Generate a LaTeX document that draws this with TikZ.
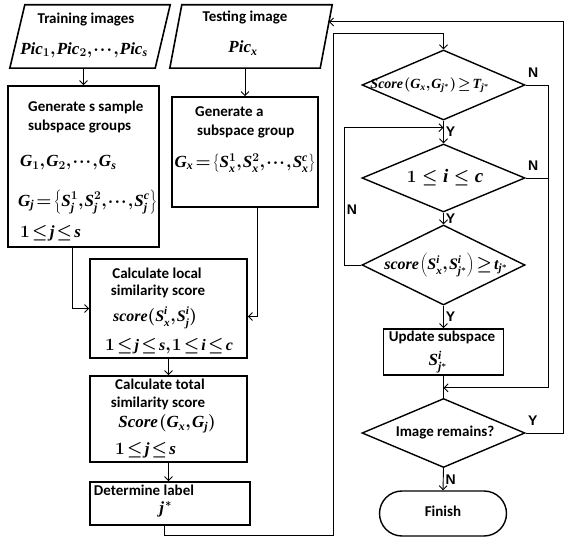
\documentclass[tikz,border=0pt]{standalone}
\usepackage{fontspec}
\setmainfont{Carlito}
\newfontfamily\ynfont{Liberation Sans}
\newfontfamily\tnr[NFSSFamily=tnr]{Liberation Serif}
\DeclareSymbolFont{tnrit}{TU}{tnr}{bx}{it}
\DeclareSymbolFont{tnrup}{TU}{tnr}{bx}{n}
\DeclareMathSymbol{P}{\mathalpha}{tnrit}{`P}
\DeclareMathSymbol{G}{\mathalpha}{tnrit}{`G}
\DeclareMathSymbol{S}{\mathalpha}{tnrit}{`S}
\DeclareMathSymbol{T}{\mathalpha}{tnrit}{`T}
\DeclareMathSymbol{c}{\mathalpha}{tnrit}{`c}
\DeclareMathSymbol{e}{\mathalpha}{tnrit}{`e}
\DeclareMathSymbol{i}{\mathalpha}{tnrit}{`i}
\DeclareMathSymbol{j}{\mathalpha}{tnrit}{`j}
\DeclareMathSymbol{o}{\mathalpha}{tnrit}{`o}
\DeclareMathSymbol{r}{\mathalpha}{tnrit}{`r}
\DeclareMathSymbol{s}{\mathalpha}{tnrit}{`s}
\DeclareMathSymbol{t}{\mathalpha}{tnrit}{`t}
\DeclareMathSymbol{x}{\mathalpha}{tnrit}{`x}
\DeclareMathSymbol{1}{\mathalpha}{tnrup}{`1}
\DeclareMathSymbol{2}{\mathalpha}{tnrup}{`2}
\newcommand\tightmath{\thickmuskip=2mu plus 1mu\medmuskip=1.5mu\thinmuskip=1mu}
\usetikzlibrary{shapes.geometric,shapes.misc,calc,arrows.meta}

\tikzset{
  >={Straight Barb[length=4pt,width=8pt]},
  box/.style={draw,line width=1.6pt,inner sep=0pt},
  io/.style={inner sep=0pt},
  slant/.style={line width=1.6pt},
  dec/.style={draw,line width=1.4pt,diamond,inner sep=0.5pt},
  term/.style={draw,line width=1.4pt,rounded rectangle,inner sep=0.5pt},
  flow/.style={line width=0.9pt},
  txt/.style={font=\fontsize{15}{20}\selectfont\bfseries,inner sep=0pt},
  eq/.style={font=\fontsize{17}{20}\selectfont\boldmath\tightmath,inner sep=0pt},
  yn/.style={font=\fontsize{14}{16}\selectfont\ynfont\bfseries,inner sep=2pt},
}

\begin{document}
\begin{tikzpicture}[x=1pt,y=-1pt]
    \useasboundingbox (0,0) rectangle (566,537);
    % input blocks
    \node[io,minimum width=160,minimum height=63] (train) at (90,36.5) {};
    \draw[slant] (train.south west) -- ($(train.north west)+(15,0)$)
      -- (train.north east) -- ($(train.south east)+(-15,0)$) -- cycle;
    \node[txt] (traint) at (86,20) {Training images};
    \node[eq] (trainm) at (84,50) {$Pic_1,Pic_2,\cdots,Pic_s$};
    \node[io,minimum width=162,minimum height=63] (test) at (251,36.5) {};
    \draw[slant] (test.south west) -- ($(test.north west)+(12,0)$)
      -- (test.north east) -- ($(test.south east)+(-12,0)$) -- cycle;
    \node[txt] (testt) at (245,18) {Testing image};
    \node[eq] (testm) at (243,48) {$Pic_x$};
    % subspace groups
    \node[box,minimum width=151,minimum height=161] (gen) at (83.5,166.5) {};
    \node[txt,anchor=west] (gen1) at (28,107) {Generate s sample};
    \node[txt,anchor=west] (gen2) at (28,127) {subspace groups};
    \node[eq,anchor=west] (gen3) at (20,163) {$G_1,G_2,\cdots,G_s$};
    \node[eq,anchor=west] (gen4) at (18,202) {$G_j=\left\{S_j^1,S_j^2,\cdots,S_j^c\right\}$};
    \node[eq,anchor=west] (gen5) at (20,233) {$1\le j\le s$};
    \node[box,minimum width=146,minimum height=110] (gx) at (245,152) {};
    \node[txt,anchor=west] (gx1) at (195,112) {Generate a};
    \node[txt,anchor=west] (gx2) at (197,132) {subspace group};
    \node[eq] (gx3) at (245,163) {$G_x=\left\{S_x^1,S_x^2,\cdots,S_x^c\right\}$};
    % scores
    \node[box,minimum width=157,minimum height=99] (loc) at (168.5,308.5) {};
    \node[txt] (loc1) at (157,273) {Calculate local};
    \node[txt] (loc2) at (158,291) {similarity score};
    \node[eq,font=\fontsize{16}{20}\selectfont\boldmath\tightmath] (loc3) at (155,318) {$score\Bigl(S_x^i,S_j^i\Bigr)$};
    \node[eq,font=\fontsize{16}{20}\selectfont\boldmath\tightmath] (loc4) at (169,346) {$1\le j\le s,1\le i\le c$};
    \node[box,minimum width=157,minimum height=86] (tot) at (168.5,419) {};
    \node[txt] (tot1) at (160,384) {Calculate total};
    \node[txt] (tot2) at (158,403) {similarity score};
    \node[eq] (tot3) at (167,424) {$Score\left(G_x,G_j\right)$};
    \node[eq,anchor=west] (tot4) at (115,450) {$1\le j\le s$};
    \node[box,minimum width=160,minimum height=43] (det) at (170,503.5) {};
    \node[txt] (det1) at (144,490) {Determine label};
    \node[eq] (det2) at (166,509) {$j$*};
    % right column
    \node[dec,minimum width=163,minimum height=70] (d1) at (443.5,85) {};
    \node[eq,font=\fontsize{14}{16}\selectfont\boldmath\tightmath] (d1t) at (430,85) {$Score\left(G_x,G_{j^*}\right)\ge T_{j^*}$};
    \node[dec,minimum width=163,minimum height=68] (d2) at (443.5,178) {};
    \node[eq,font=\fontsize{19}{20}\selectfont\boldmath] (d2t) at (445,178) {$1\le i\le c$};
    \node[dec,minimum width=163,minimum height=80] (d3) at (443.5,265) {};
    \node[eq,font=\fontsize{16}{18}\selectfont\boldmath\tightmath] (d3t) at (446,265) {$score\left(S_x^i,S_{j^*}^i\right)\ge t_{j^*}$};
    \node[box,minimum width=120,minimum height=46] (upd) at (443.5,352) {};
    \node[txt] (upd1) at (442,337) {Update subspace};
    \node[eq] (upd2) at (438,362) {$S_{j^*}^i$};
    \node[dec,minimum width=163,minimum height=69] (d4) at (443.5,433) {};
    \node[txt] (d4t) at (445,433) {Image remains?};
    \node[term,minimum width=128,minimum height=45] (fin) at (443,513.5) {};
    \node[txt] (fint) at (443,511) {Finish};
    % helper points
    \coordinate (lb) at (333,535);
    \coordinate (lt) at (333,33);
    \coordinate (rx) at (548,0);
    \coordinate (rr) at (563,0);
    \coordinate (j1) at ($(d1.south)+(0,7)$);
    \coordinate (j2) at ($(upd.south)+(0,12)$);
    \coordinate (tin) at ($(test.north east)!0.27!($(test.south east)+(-12,0)$)$);
    % connectors, left part
    \draw[flow,->] (train.south -| gen.north) -- (gen.north);
    \draw[flow,->] (test.south -| gx.north) -- (gx.north);
    \draw[flow,->] ($(gen.south)+(-11,0)$) |- (loc.west);
    \draw[flow,->] ($(gx.south)+(12,0)$) |- ($(loc.east)+(0,8)$);
    \draw[flow,->] (loc.south) -- (tot.north);
    \draw[flow,->] (tot.south) -- (tot.south |- det.north);
    \draw[flow,->] ($(det.south)+(-6,0)$) |- (lb) -- (lt) -| (d1.north);
    % connectors, right part
    \draw[flow,->] (d1.south) -- node[yn,right] (y1) {Y} (d2.north);
    \draw[flow,->] (d2.south) -- node[yn,right] (y2) {Y} (d3.north);
    \draw[flow,->] (d3.west) -- ++(-17,0) |- node[yn,right,pos=0.2] (n3) {N} (j1);
    \draw[flow,->] (d3.south) -- node[yn,right] (y3) {Y} (upd.north);
    \draw[flow] (upd.south) -- (d4.north);
    \draw[flow,->] (d1.east) node[yn,above right,yshift=5pt] (n1) {N} -- (d1.east -| rx) |- (j2);
    \draw[flow] (d2.east) node[yn,above right,yshift=5pt] (n2) {N} -- (d2.east -| rx);
    \draw[flow,->] (d4.south) -- node[yn,right] (n4) {N} (fin.north);
    \draw[flow,->] (d4.east) node[yn,above right,yshift=5pt] (y4) {Y} -- (d4.east -| rr) |- (tin);
\end{tikzpicture}
\end{document}
